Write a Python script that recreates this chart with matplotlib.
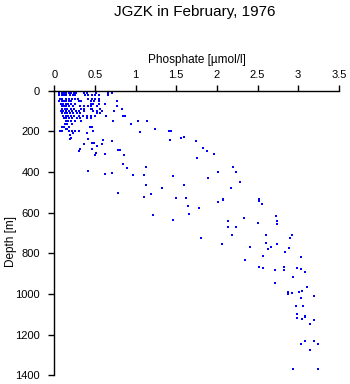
import matplotlib
matplotlib.use("Agg")
import matplotlib.pyplot as plt

plt.rcParams['font.family'] = ['Liberation Sans', 'DejaVu Sans']

# shallow, densely sampled bottle depths: (depth, phosphate values)
shallow_depths = [0, 10, 20, 40, 50, 65, 75, 90, 100, 110, 125, 135, 150, 165, 180, 190, 200]
shallow_phos = [
    [.06, .08, .10, .12, .14, .16, .18, .20, .22, .24, .26, .28, .30, .34, .37, .42, .45, .49, .51, .54, .56, .77],
    [.06, .09, .12, .15, .18, .21, .24, .27, .37, .40, .51, .66, .71],
    [.06, .09, .12, .15, .19, .23, .26, .38, .42, .46, .50, .55, .66],
    [.07, .10, .14, .18, .22, .26, .29, .42, .46, .50, .55],
    [.06, .09, .12, .15, .18, .21, .30, .33, .45, .49, .55, .77],
    [.08, .11, .14, .17, .20, .26, .45, .48, .55, .63],
    [.09, .12, .15, .18, .23, .32, .36, .41, .45, .52, .77],
    [.10, .13, .16, .20, .24, .33, .37, .45, .47, .56, .83],
    [.08, .11, .14, .18, .22, .27, .30, .36, .48, .52, .59, .73],
    [.10, .13, .16, .19, .23, .28, .32, .52, .56],
    [.11, .14, .17, .20, .24, .30, .35, .40, .45, .50, .64, .84, .87],
    [.12, .15, .18, .22, .28, .32, .40, .45],
    [.14, .17, .20, .26, .33, .72, 1.03, 1.14],
    [.13, .16, .22, .95],
    [.10, .12, .18, .44, .47],
    [.14, .16, 1.24],
    [.07, .10, .18, .22, .26, .30, .48, 1.41, 1.44],
]

# deeper samples
deep_phos = [
    1.06, .40, .19, .23, .21, .19, .41, 1.42, 1.56, 1.60, 1.74, .71, .60, .59, .49, .46, .53,
    1.83, 1.88, 1.97, 1.75, .32, .31, .36, .46, .50, .51, .63, .79, .81, .86,
    .84, .89, .42, .62, .71, .97, 1.11, 1.13, 1.13, 1.19, 1.11, 1.33, 1.46, 1.60,
    1.50, 1.62, 1.65, 1.66, 1.21, 1.78, 1.46, .78, 1.89, 2.01, 2.20, 2.23, 2.29,
    2.18, 2.07, 2.52, 2.01, 2.07, 2.52, 2.55, 2.14, 2.14, 2.24, 2.34, 2.50, 2.73,
    2.74, 2.74, 1.80, 2.06, 2.19, 2.41, 2.60, 2.61, 2.67, 2.63, 2.74, 2.84, 2.89,
    2.90, 2.92, 2.35, 2.57, 2.52, 2.57, 2.71, 2.82, 2.83, 2.99, 3.04, 3.08, 3.03,
    2.94, 2.71, 2.87, 2.87, 2.92, 3.01, 3.05, 3.11, 3.20, 3.03, 2.97, 3.06, 2.99,
    2.99, 3.05, 3.08, 3.09, 3.14, 3.20, 3.09, 3.19, 3.03, 3.24, 3.15, 2.94, 3.24,
]
deep_depth = [
    205, 210, 218, 210, 234, 239, 239, 244, 234, 228, 248, 245, 243, 262, 259, 259, 270,
    282, 298, 313, 332, 288, 295, 264, 287, 316, 308, 313, 292, 293, 318,
    362, 381, 396, 411, 403, 416, 417, 375, 465, 506, 522, 480, 421, 464,
    529, 529, 567, 608, 613, 577, 635, 505, 429, 401, 377, 400, 450,
    479, 534, 533, 547, 539, 541, 557, 643, 672, 672, 628, 652, 616,
    641, 657, 723, 756, 711, 771, 710, 751, 771, 777, 756, 792, 774,
    726, 708, 834, 815, 869, 874, 884, 869, 884, 874, 877, 893, 820,
    918, 947, 989, 1002, 997, 992, 987, 966, 1010, 1021, 1061, 1061, 1100,
    1120, 1125, 1110, 1115, 1149, 1130, 1230, 1233, 1248, 1248, 1277, 1370, 1367,
]

x_ticks = [0, 0.5, 1, 1.5, 2, 2.5, 3, 3.5]
x_labels = ['0', '0.5', '1', '1.5', '2', '2.5', '3', '3.5']
y_ticks = [0, 200, 400, 600, 800, 1000, 1200, 1400]

phos = []
depth = []
for d, vals in zip(shallow_depths, shallow_phos):
    phos += vals
    depth += [d] * len(vals)
phos += deep_phos
depth += deep_depth

fig = plt.figure(figsize=(3.5, 3.84), dpi=100)
ax = fig.add_axes([0.155, 0.0227, 0.813, 0.741])

ax.plot(phos, depth, 's', color='#0000ff', markersize=2.15, markeredgewidth=0,
        antialiased=False)

ax.set_xlim(0, 3.5)
ax.set_ylim(1400, 0)
ax.set_xticks(x_ticks)
ax.set_xticklabels(x_labels)
ax.set_yticks(y_ticks)

ax.xaxis.tick_top()
ax.xaxis.set_label_position('top')
ax.spines['right'].set_visible(False)
ax.spines['bottom'].set_visible(False)
ax.spines['top'].set_linewidth(1.0)
ax.spines['left'].set_linewidth(1.0)
ax.tick_params(axis='x', direction='out', length=4.5, width=1.0, pad=3, labelsize=8)
ax.tick_params(axis='y', direction='out', length=4.5, width=1.0, pad=6, labelsize=8)

ax.set_xlabel('Phosphate [µmol/l]', fontsize=8.5, labelpad=5)
ax.set_ylabel('Depth [m]', fontsize=8.5)
ax.yaxis.set_label_coords(-0.13, 0.47)

fig.text(0.557, 0.988, 'JGZK in February, 1976', ha='center', va='top', fontsize=11)

fig.savefig('out.png', dpi=100)
